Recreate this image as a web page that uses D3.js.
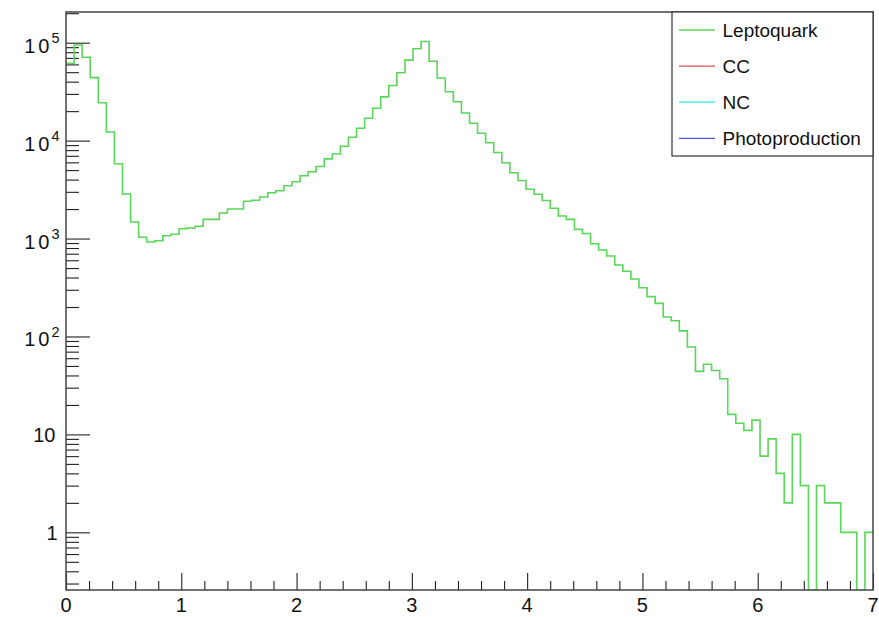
<!DOCTYPE html>
<html>
<head>
<meta charset="utf-8">
<script src="https://cdn.jsdelivr.net/npm/d3@7"></script>
<style>
  html, body { margin: 0; padding: 0; background: #fff; }
  svg { display: block; }
  text { font-family: "Liberation Sans", Arial, Helvetica, sans-serif; fill: #111; }
</style>
</head>
<body>
<svg id="chart" width="879" height="617"></svg>
<script>
// Histogram binning: 100 bins from 0 to 7
const binLow = 0;
const binWidth = 0.07;

// Leptoquark sample, bin contents (events per bin)
const leptoquarkCounts = [
  61600, 94700, 71000, 43950, 24380, 12240, 5810, 2850, 1475, 1030,
  922, 951, 1069, 1105, 1260, 1282, 1336, 1571, 1571, 1824,
  2003, 2003, 2400, 2459, 2656, 2940, 3080, 3465, 3805, 4385,
  4817, 5440, 6515, 7300, 8770, 10840, 13360, 16900, 21430, 28000,
  36600, 49300, 66300, 86700, 102900, 64700, 43600, 31600, 24960, 19150,
  15040, 11880, 9527, 7565, 5951, 4702, 3915, 3183, 2836, 2446,
  2041, 1698, 1571, 1242, 1125, 886, 764, 664, 537, 463,
  386, 315, 255, 218, 158, 145, 114, 78, 44, 52,
  45, 37, 16, 13, 11, 14, 6, 9, 4, 2,
  10, 3, 0, 3, 2, 2, 1, 1, 0, 1
];

// Legend entries
const legendLabels = ["Leptoquark", "CC", "NC", "Photoproduction"];
const legendColors = ["#5ad65a", "#e05050", "#22eeee", "#5555ee"];

// Axis ticks
const xMajorTicks = [0, 1, 2, 3, 4, 5, 6, 7];
const xTickLabels = ["0", "1", "2", "3", "4", "5", "6", "7"];
const yDecades = [1, 10, 100, 1000, 10000, 100000];
const yTickLabels = [["1", ""], ["10", ""], ["10", "2"], ["10", "3"], ["10", "4"], ["10", "5"]];

const frame = { left: 66, right: 873, top: 12, bottom: 590 };
const xDomain = [0, 7];
const yDomain = [0.2577, 205800];

const svg = d3.select("#chart");

const x = d3.scaleLinear().domain(xDomain).range([frame.left, frame.right]);
const y = d3.scaleLog().domain(yDomain).range([frame.bottom, frame.top]).clamp(true);

// Minor ticks: 0.2 steps on x, 2..9 per decade on y
const xMinorTicks = d3.range(0, 7.0001, 0.2).filter(v => Math.abs(v - Math.round(v)) > 1e-6);
const yMinorTicks = [];
[0.1, 1, 10, 100, 1000, 10000, 100000].forEach(d => {
  for (let k = 2; k <= 9; k++) {
    const v = d * k;
    if (v >= yDomain[0] && v <= yDomain[1]) yMinorTicks.push(v);
  }
});

const tickColor = "#222";

// X axis ticks (pointing up into the frame)
function drawXAxis(values, size) {
  const g = svg.append("g")
    .attr("transform", `translate(0,${frame.bottom})`)
    .call(d3.axisBottom(x).tickValues(values).tickSize(-size).tickFormat(""));
  g.select(".domain").remove();
  g.selectAll(".tick line").attr("stroke", tickColor).attr("stroke-width", 1.1);
}
drawXAxis(xMajorTicks, 17);
drawXAxis(xMinorTicks, 9);

// Y axis ticks (pointing right into the frame)
function drawYAxis(values, size) {
  const g = svg.append("g")
    .attr("transform", `translate(${frame.left},0)`)
    .call(d3.axisLeft(y).tickValues(values).tickSize(-size).tickFormat(""));
  g.select(".domain").remove();
  g.selectAll(".tick line").attr("stroke", tickColor).attr("stroke-width", 1.1);
}
drawYAxis(yDecades, 24);
drawYAxis(yMinorTicks, 13);

// X tick labels
svg.append("g").selectAll("text")
  .data(xMajorTicks)
  .join("text")
  .attr("x", d => x(d))
  .attr("y", 612)
  .attr("text-anchor", "middle")
  .attr("font-size", 20)
  .text((d, i) => xTickLabels[i]);

// Y tick labels, powers of ten drawn with a raised exponent
const yLab = svg.append("g");
yDecades.forEach((d, i) => {
  const [base, exp] = yTickLabels[i];
  const t = yLab.append("text")
    .attr("y", y(d) + (exp ? 10 : 7.5))
    .attr("font-size", 20)
    .attr("text-anchor", "end");
  if (exp) {
    t.attr("x", 59.5);
    t.append("tspan").text(base).attr("letter-spacing", 3);
    t.append("tspan").text(exp).attr("font-size", 14.5).attr("dy", -9.5).attr("dx", -1);
  } else {
    t.attr("x", base === "1" ? 57.5 : 55.5).text(base);
  }
});

// Histogram outline (step line)
svg.append("clipPath").attr("id", "plotClip")
  .append("rect")
  .attr("x", frame.left).attr("y", frame.top)
  .attr("width", frame.right - frame.left).attr("height", frame.bottom - frame.top);

const steps = leptoquarkCounts.map((c, i) => [binLow + i * binWidth, c]);
steps.push([binLow + leptoquarkCounts.length * binWidth, leptoquarkCounts[leptoquarkCounts.length - 1]]);

const stepLine = d3.line()
  .x(d => x(d[0]))
  .y(d => d[1] > 0 ? y(d[1]) : frame.bottom)
  .curve(d3.curveStepAfter);

svg.append("path")
  .attr("clip-path", "url(#plotClip)")
  .attr("d", stepLine(steps))
  .attr("fill", "none")
  .attr("stroke", legendColors[0])
  .attr("stroke-width", 1.6);

// Frame
svg.append("rect")
  .attr("x", frame.left).attr("y", frame.top)
  .attr("width", frame.right - frame.left).attr("height", frame.bottom - frame.top)
  .attr("fill", "none")
  .attr("stroke", "#444")
  .attr("stroke-width", 1.5);

// Legend box
const legend = { left: 672, right: 873, top: 12, bottom: 156 };
svg.append("rect")
  .attr("x", legend.left).attr("y", legend.top)
  .attr("width", legend.right - legend.left).attr("height", legend.bottom - legend.top)
  .attr("fill", "#fff")
  .attr("stroke", "#333")
  .attr("stroke-width", 1.2);

const legendY = d3.scalePoint().domain(legendLabels).range([30, 138.3]);
const lg = svg.append("g").selectAll("g")
  .data(legendLabels)
  .join("g")
  .attr("transform", d => `translate(0,${legendY(d)})`);
lg.append("line")
  .attr("x1", 679).attr("x2", 715)
  .attr("stroke", (d, i) => legendColors[i])
  .attr("stroke-width", (d, i) => i === 0 ? 1.6 : 1.2);
lg.append("text")
  .attr("x", 722.5)
  .attr("y", 6.8)
  .attr("font-size", 19)
  .text(d => d);
</script>
</body>
</html>
